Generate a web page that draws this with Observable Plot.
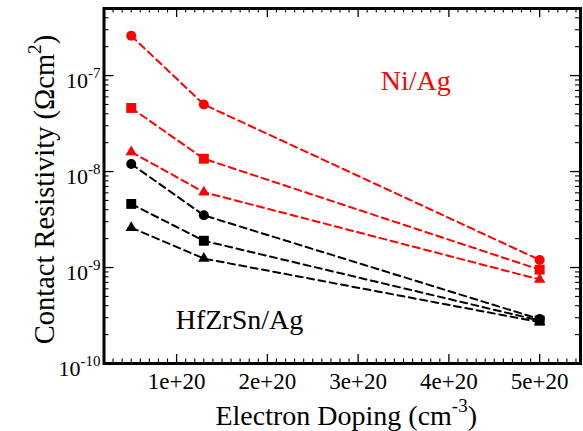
<!DOCTYPE html>
<html>
<head>
<meta charset="utf-8">
<script src="https://cdn.jsdelivr.net/npm/d3@7"></script>
<script src="https://cdn.jsdelivr.net/npm/@observablehq/plot@0.6"></script>
<style>
  html, body { margin: 0; padding: 0; background: #fff; }
  #chart svg { display: block; }
</style>
</head>
<body>
<div id="chart"></div>
<script>
// ---- data ----
const doping = [5e19, 1.3e20, 5e20];
const niCircle   = [2.6e-7, 5.0e-8, 1.2e-9];
const niSquare   = [4.6e-8, 1.36e-8, 9.5e-10];
const niTriangle = [1.6e-8, 6.1e-9, 7.5e-10];
const hfCircle   = [1.2e-8, 3.5e-9, 2.9e-10];
const hfSquare   = [4.6e-9, 1.9e-9, 2.8e-10];
const hfTriangle = [2.6e-9, 1.24e-9, 2.7e-10];
const groups = ["Ni/Ag", "HfZrSn/Ag"];
const shapes = ["circle", "square", "triangle"];
const xMajor = [1e20, 2e20, 3e20, 4e20, 5e20];
const yMajor = [1e-10, 1e-9, 1e-8, 1e-7];
const xTitle = "Electron Doping (cm^-3^)";
const yTitle = "Contact Resistivity (Ωcm^2^)";
const notes = [
  {text: "Ni/Ag", x: 3.25e20, y: 7.0e-8, group: "Ni/Ag"},
  {text: "HfZrSn/Ag", x: 0.99e20, y: 2.3e-10, group: "HfZrSn/Ag"}
];

// ---- build table ----
const seriesList = [
  {group: "Ni/Ag", shape: "circle", values: niCircle},
  {group: "Ni/Ag", shape: "square", values: niSquare},
  {group: "Ni/Ag", shape: "triangle", values: niTriangle},
  {group: "HfZrSn/Ag", shape: "circle", values: hfCircle},
  {group: "HfZrSn/Ag", shape: "square", values: hfSquare},
  {group: "HfZrSn/Ag", shape: "triangle", values: hfTriangle}
];
const rows = seriesList.flatMap(s => s.values.map((v, i) => ({
  x: doping[i], y: v, group: s.group, shape: s.shape, key: s.group + "-" + s.shape
})));

const xDomain = [2e19, 5.45e20];
const yDomain = [1e-10, 5e-7];
const xMinor = d3.range(2, 55).map(k => k * 1e19).filter(v => v <= xDomain[1] && v % 1e20 !== 0);
const yMinor = [];
for (let e = -10; e <= -7; e++) for (let m = 2; m <= 9; m++) {
  const v = m * Math.pow(10, e);
  if (v <= yDomain[1]) yMinor.push(v);
}

const W = 583, H = 431;
const mL = 103.5, mR = 3, mT = 8, mB = 68;
const pw = W - mL - mR, ph = H - mT - mB;
const font = "'Liberation Serif', 'Times New Roman', serif";
const rSize = {circle: 5, square: 5.6, triangle: 4.2};

const plot = Plot.plot({
  width: W, height: H,
  marginLeft: mL, marginRight: mR, marginTop: mT, marginBottom: mB,
  style: {fontFamily: font, background: "#fff"},
  x: {domain: xDomain, axis: null},
  y: {type: "log", domain: yDomain, axis: null},
  color: {domain: groups, range: ["#ff0000", "#000000"]},
  symbol: {domain: shapes, range: ["circle", "square", "triangle"]},
  r: {type: "identity"},
  marks: [
    // ticks (inward) on all four sides
    Plot.tickY(yMajor, {y: d => d, insetRight: pw - 10, strokeWidth: 1.3}),
    Plot.tickY(yMinor, {y: d => d, insetRight: pw - 5, strokeWidth: 1.1}),
    Plot.tickY(yMajor, {y: d => d, insetLeft: pw - 10, strokeWidth: 1.3}),
    Plot.tickY(yMinor, {y: d => d, insetLeft: pw - 5, strokeWidth: 1.1}),
    Plot.tickX(xMajor, {x: d => d, insetTop: ph - 9, strokeWidth: 1.3}),
    Plot.tickX(xMinor, {x: d => d, insetTop: ph - 4.5, strokeWidth: 1.1}),
    Plot.tickX(xMajor, {x: d => d, insetBottom: ph - 9, strokeWidth: 1.3}),
    Plot.tickX(xMinor, {x: d => d, insetBottom: ph - 4.5, strokeWidth: 1.1}),
    // lines
    Plot.line(rows, {x: "x", y: "y", z: "key", stroke: "group", strokeWidth: 2, strokeDasharray: "7,4.5"}),
    // markers
    Plot.dot(rows, {x: "x", y: "y", symbol: "shape", fill: "group", stroke: "none", r: d => rSize[d.shape]}),
    // frame
    Plot.frame({strokeWidth: 3}),
    // tick labels
    Plot.text(xMajor, {x: d => d, frameAnchor: "bottom", lineAnchor: "top", dy: 9, fontSize: 23, text: d => d3.format(".0e")(d)}),
    Plot.text(yMajor, {y: d => d, frameAnchor: "left", textAnchor: "end", dx: -3.5, dy: 5, fontSize: 22, text: d => "10^" + Math.round(Math.log10(d)) + "^"}),
    // axis titles
    Plot.text([xTitle], {frameAnchor: "bottom", textAnchor: "middle", lineAnchor: "bottom", dx: 4, dy: 61, fontSize: 28, text: d => d}),
    Plot.text([yTitle], {frameAnchor: "left", textAnchor: "middle", lineAnchor: "bottom", rotate: -90, dx: -50.5, dy: 3.5, fontSize: 28.5, text: d => d}),
    // annotations
    Plot.text(notes, {x: "x", y: "y", text: "text", fill: "group", textAnchor: "start", lineAnchor: "bottom", fontSize: 28})
  ]
});

// convert "base^sup^rest" into tspans with a superscript
d3.select(plot).selectAll("text").each(function () {
  const t = this.textContent;
  if (!t || t.indexOf("^") < 0) return;
  const parts = t.split("^");
  const g = this.closest("g");
  const fs = parseFloat((g && g.getAttribute("font-size")) || this.getAttribute("font-size")) || 22;
  const sel = d3.select(this);
  sel.text(null);
  sel.append("tspan").text(parts[0]);
  if (parts[1] !== undefined && parts[1] !== "") {
    sel.append("tspan").attr("dy", -0.45 * fs).attr("font-size", 0.68 * fs).text(parts[1]);
  }
  if (parts[2] !== undefined && parts[2] !== "") {
    sel.append("tspan").attr("dy", 0.45 * fs).text(parts[2]);
  }
});

document.getElementById("chart").appendChild(plot);
</script>
</body>
</html>
